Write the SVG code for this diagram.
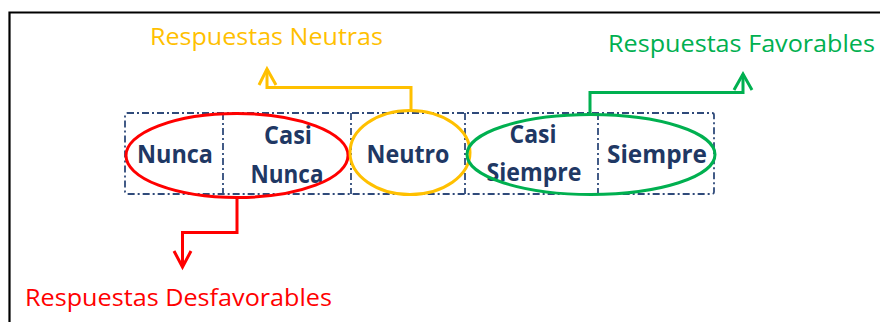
<svg xmlns="http://www.w3.org/2000/svg" width="880" height="322" viewBox="0 0 880 322">
<style>
.lbl{font-family:"Open Sans","Noto Sans","Liberation Sans",sans-serif;font-size:24px}
.cell{font-family:"Open Sans","Noto Sans","Liberation Sans",sans-serif;font-size:25px;font-weight:bold;fill:#1F3864;text-anchor:middle}
.grid{fill:none;stroke:#2F4A7A;stroke-width:1.8;stroke-dasharray:7 3 2 3}
.ell{fill:none;stroke-width:3}
.con{fill:none;stroke-width:3;stroke-linejoin:miter}
</style>
<rect width="880" height="322" fill="#fff"/>
<path d="M9.5 322 V12.5 H880" fill="none" stroke="#000" stroke-width="2.2"/>
<g id="table">
<rect class="grid" x="125" y="113" width="589" height="81" rx="2"/>
<line class="grid" x1="223" y1="113" x2="223" y2="194"/>
<line class="grid" x1="351" y1="113" x2="351" y2="194"/>
<line class="grid" x1="465" y1="113" x2="465" y2="194"/>
<line class="grid" x1="598" y1="113" x2="598" y2="194"/>
</g>
<g id="nunca"><text class="cell" x="175" y="163" textLength="76" lengthAdjust="spacingAndGlyphs">Nunca</text></g>
<g id="casi-nunca"><text class="cell" x="288" y="144" textLength="48" lengthAdjust="spacingAndGlyphs">Casi</text><text class="cell" x="287" y="183" textLength="73" lengthAdjust="spacingAndGlyphs">Nunca</text></g>
<g id="neutro"><text class="cell" x="408" y="163" textLength="83" lengthAdjust="spacingAndGlyphs">Neutro</text></g>
<g id="casi-siempre"><text class="cell" x="533" y="143" textLength="47" lengthAdjust="spacingAndGlyphs">Casi</text><text class="cell" x="534" y="181" textLength="95" lengthAdjust="spacingAndGlyphs">Siempre</text></g>
<g id="siempre"><text class="cell" x="657" y="163" textLength="100" lengthAdjust="spacingAndGlyphs">Siempre</text></g>
<g id="ellipses">
<ellipse id="desfavorables-group" class="ell" stroke="#FF0000" cx="237" cy="155.5" rx="111" ry="42"/>
<ellipse id="neutras-group" class="ell" stroke="#FFC000" cx="410" cy="152.5" rx="60" ry="42"/>
<ellipse id="favorables-group" class="ell" stroke="#00B050" cx="591" cy="154.5" rx="124" ry="40"/>
</g>
<g id="connectors">
<path class="con" stroke="#FFC000" d="M411 111 V87.5 H267 V69"/>
<path class="con" stroke="#FFC000" d="M259 85 L267 69 L276 85"/>
<path class="con" stroke="#00B050" d="M590 113 V92.5 H743 V74"/>
<path class="con" stroke="#00B050" d="M734 90 L743 74 L752 90"/>
<path class="con" stroke="#FF0000" d="M237 198 V232.5 H182.5 V267"/>
<path class="con" stroke="#FF0000" d="M174 251 L182.5 267 L191 251"/>
</g>
<g id="label-neutras"><text class="lbl" fill="#FFC000" x="150" y="45" textLength="233" lengthAdjust="spacingAndGlyphs">Respuestas Neutras</text></g>
<g id="label-favorables"><text class="lbl" fill="#00B050" x="608" y="52" textLength="267" lengthAdjust="spacingAndGlyphs">Respuestas Favorables</text></g>
<g id="label-desfavorables"><text class="lbl" fill="#FF0000" x="25" y="306" textLength="307" lengthAdjust="spacingAndGlyphs">Respuestas Desfavorables</text></g>
</svg>
